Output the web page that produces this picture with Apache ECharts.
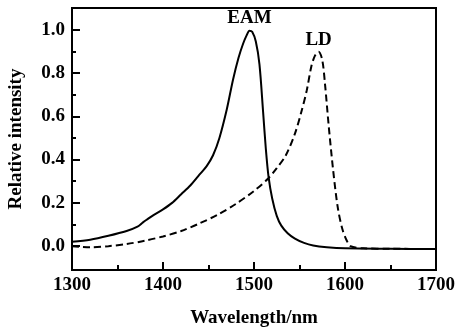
<!DOCTYPE html>
<html><head><meta charset="utf-8">
<script src="https://cdn.jsdelivr.net/npm/echarts@6/dist/echarts.min.js"></script>
<style>html,body{margin:0;padding:0;background:#fff}#c{width:459px;height:331px}</style>
</head><body><div id="c"></div>
<script>
const xTicks = [1300, 1400, 1500, 1600, 1700];
const yMajorTicks = [0, 0.2, 0.4, 0.6, 0.8, 1.0];
const yMinorTicks = [0.1, 0.3, 0.5, 0.7, 0.9];
const eamWavelength = [1300,1320,1340,1360,1372,1378,1382,1390,1400,1410,1420,1430,1440,1448,1455,1462,1470,1477,1483,1488,1492,1495,1498,1502,1506,1510,1513,1516,1520,1525,1530,1537,1545,1555,1565,1580,1600,1650,1700];
const eamIntensity = [0.02,0.03,0.048,0.07,0.09,0.11,0.122,0.145,0.17,0.2,0.24,0.28,0.33,0.37,0.42,0.5,0.63,0.77,0.87,0.935,0.975,0.995,0.99,0.945,0.84,0.62,0.45,0.32,0.22,0.14,0.095,0.06,0.035,0.015,0.003,-0.005,-0.01,-0.012,-0.013];
const ldWavelength = [1300,1320,1340,1360,1380,1400,1420,1440,1460,1480,1500,1515,1525,1535,1545,1552,1558,1563,1567,1571,1575,1578,1582,1587,1592,1597,1602,1606,1620,1650,1700];
const ldIntensity = [0.0,-0.005,0.0,0.01,0.025,0.045,0.07,0.105,0.145,0.195,0.255,0.31,0.36,0.42,0.52,0.62,0.72,0.83,0.88,0.898,0.86,0.75,0.56,0.35,0.18,0.08,0.025,0.0,-0.01,-0.012,-0.013];
const labels = [{name:'EAM', x:1495, y:1.0}, {name:'LD', x:1571, y:0.898}];

const font = 'Liberation Serif';
const txt = {fontFamily: font, fontSize: 19, fontWeight: 'bold', color: '#000'};
const pair = (xs, ys) => xs.map((x, i) => [x, ys[i]]);
const chart = echarts.init(document.getElementById('c'));
chart.setOption({
  animation: false,
  grid: {left: 72, right: 23, top: 8, bottom: 61, show: true, borderColor: '#000', borderWidth: 2, backgroundColor: 'transparent', outerBoundsMode: 'none', containLabel: false},
  xAxis: {
    type: 'value', min: 1300, max: 1700, interval: 100,
    name: 'Wavelength/nm', nameLocation: 'middle', nameGap: 39,
    nameTextStyle: txt,
    axisLine: {onZero: false, lineStyle: {color: '#000', width: 2}},
    axisTick: {inside: true, length: 8, lineStyle: {color: '#000', width: 2}},
    minorTick: {show: true, splitNumber: 2, length: 5, lineStyle: {color: '#000', width: 2}},
    axisLabel: Object.assign({margin: 6, formatter: v => String(v)}, txt),
    splitLine: {show: false}
  },
  yAxis: [{
    type: 'value', min: -0.11, max: 1.1,
    name: 'Relative intensity', nameLocation: 'middle', nameGap: 46, nameRotate: 90,
    nameTextStyle: txt,
    axisLine: {lineStyle: {color: '#000', width: 2}},
    axisTick: {inside: true, length: 8, customValues: yMajorTicks, lineStyle: {color: '#000', width: 2}},
    axisLabel: Object.assign({margin: 7, customValues: yMajorTicks, formatter: v => v.toFixed(1)}, txt),
    splitLine: {show: false}
  }, {
    type: 'value', min: -0.11, max: 1.1, position: 'left',
    axisLine: {show: false},
    axisTick: {inside: true, length: 4, customValues: yMinorTicks, lineStyle: {color: '#000', width: 2}},
    axisLabel: {show: false},
    splitLine: {show: false}
  }],
  series: [{
    type: 'line', name: 'EAM', data: pair(eamWavelength, eamIntensity), yAxisIndex: 0,
    showSymbol: false, smooth: 0.3, lineStyle: {color: '#000', width: 2}
  }, {
    type: 'line', name: 'LD', data: pair(ldWavelength, ldIntensity), yAxisIndex: 0,
    showSymbol: false, smooth: 0.3, lineStyle: {color: '#000', width: 2, type: [7, 4]}
  }, {
    type: 'scatter', yAxisIndex: 0, symbolSize: 0, silent: true,
    itemStyle: {opacity: 1, color: '#000'},
    data: labels.map(l => ({value: [l.x, l.y], name: l.name})),
    label: Object.assign({show: true, position: 'top', distance: 2, formatter: p => p.name}, txt)
  }]
});
</script></body></html>
